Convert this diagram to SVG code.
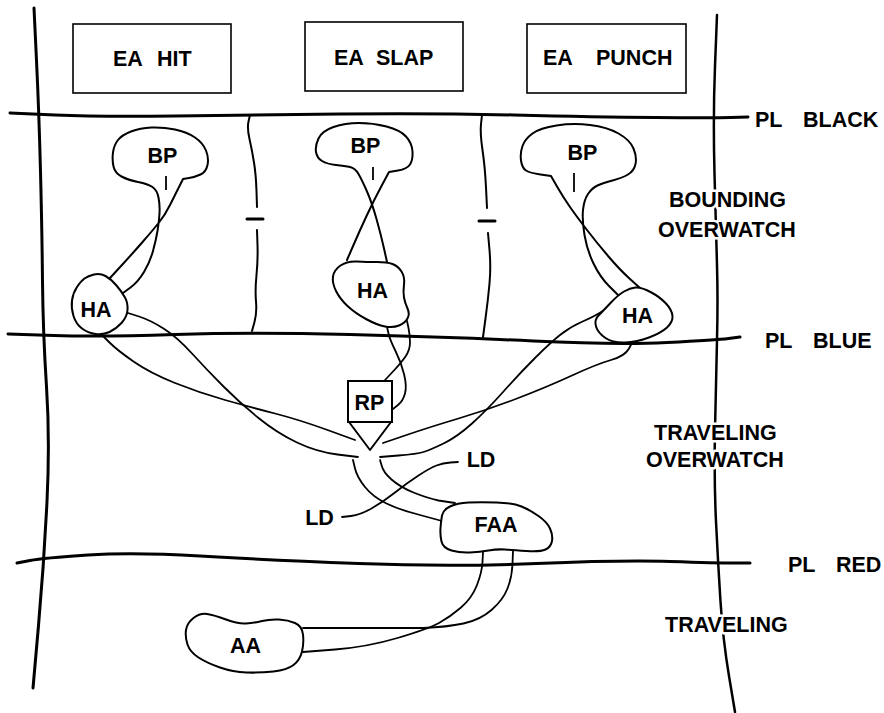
<svg xmlns="http://www.w3.org/2000/svg" width="884" height="713" viewBox="0 0 884 713">
<style>
.bnd{fill:none;stroke:#000;stroke-width:3;stroke-linecap:round;stroke-linejoin:round}
.node{fill:#fff;stroke:#000;stroke-width:2;stroke-linejoin:round}
.out{fill:none;stroke:#000;stroke-width:2;stroke-linecap:round;stroke-linejoin:round}
.con{fill:none;stroke:#000;stroke-width:1.8;stroke-linecap:round;stroke-linejoin:round}
.box{fill:#fff;stroke:#000;stroke-width:1.6}
.tick{stroke:#000;stroke-width:1.8}
text{font-family:"Liberation Sans",Arial,sans-serif;font-weight:bold;font-size:21.5px;fill:#000}
.c{text-anchor:middle}
.halo{stroke:#fff;stroke-width:5;paint-order:stroke;stroke-linejoin:round}
</style>
<rect width="884" height="713" fill="#fff"/>
<g id="boundaries">
<path class="bnd" d="M34,8 L36.5,60.5 Q39,113 40.5,171.5 Q42,230 42.5,281.5 Q43,333 46.5,386.5 Q50,440 47,501.5 Q44,563 38.5,625.5 L33,688"/>
<path class="bnd" d="M717,15 L715,66 Q713,117 714.5,173.5 Q716,230 717,265 Q718,300 717,340 Q716,380 715,430 Q714,480 716,521.5 Q718,563 720.5,601.5 Q723,640 729,676 L735,712" style="stroke-width:2.5"/>
<path class="bnd" d="M10,113 L55,115 Q100,117 175,116 Q250,115 340,114 Q430,113 513.5,115 Q597,117 655,117.5 Q713,118 730.5,117.5 L748,117"/>
<path class="bnd" d="M8,334 L54,335.5 Q100,337 175,334.5 Q250,332 350,334.5 Q450,337 533.5,341 Q617,345 667,342.5 Q717,340 728.5,338.5 L740,337"/>
<path class="bnd" d="M17,563 L30,560.5 Q43,558 88,555 Q133,552 200,556 Q267,560 358.5,563.5 Q450,567 536.5,563.5 Q623,560 670,561.5 Q717,563 733.5,563 L750,563"/>
<path class="out" d="M250,115 L248.5,121.5 Q247,128 249.5,139 Q252,150 254,162.5 Q256,175 256.5,191 L257,207"/>
<line class="bnd" x1="247" y1="219" x2="263" y2="219"/>
<path class="out" d="M257,230 L257.5,245 Q258,260 256.5,275 Q255,290 256,301.5 Q257,313 254.5,322 L252,331"/>
<path class="out" d="M482,115 L481,124 Q480,133 482.5,150 Q485,167 486,187.5 L487,208"/>
<line class="bnd" x1="479" y1="221" x2="495" y2="221"/>
<path class="out" d="M488,233 L489.5,250 Q491,267 489.5,283.5 Q488,300 485.5,318.5 L483,337"/>
</g>
<g id="labels">
<text x="755" y="127">PL<tspan x="803">BLACK</tspan></text>
<text x="765" y="348">PL<tspan x="813">BLUE</tspan></text>
<text x="788" y="572">PL<tspan x="836">RED</tspan></text>
<text class="halo" x="669" y="207">BOUNDING</text>
<text class="halo" x="658" y="237">OVERWATCH</text>
<text class="halo" x="654" y="440">TRAVELING</text>
<text class="halo" x="646" y="467">OVERWATCH</text>
<text class="halo" x="665" y="632">TRAVELING</text>
</g>
<g id="connectors">
<path class="con" d="M102,335 L109.5,342.5 Q117,350 133.5,361.5 Q150,373 175,383 Q200,393 225,400 Q250,407 275,413.5 Q300,420 327.5,430 L355,440"/>
<path class="con" d="M128,313 L139,316.5 Q150,320 163.5,328.5 Q177,337 192,353.5 Q207,370 223.5,386.5 Q240,403 258.5,418 Q277,433 297,442.5 Q317,452 337.5,454.5 L358,457"/>
<path class="con" d="M387,327 L388.5,333.5 Q390,340 395.5,351 Q401,362 404,374 Q407,386 405,393.5 Q403,401 398,405 L393,409"/>
<path class="con" d="M407,321 L408.5,328 Q410,335 410,342.5 Q410,350 405.5,356.5 Q401,363 393,371.5 L385,380"/>
<path class="con" d="M606,309 L599.5,313 Q593,317 581.5,322 Q570,327 560,335 Q550,343 535,358 Q520,373 503.5,391.5 Q487,410 472,423.5 Q457,437 443.5,443.5 Q430,450 423.5,452 Q417,454 398.5,455.5 L380,457"/>
<path class="con" d="M633,341 L629,348.5 Q625,356 611,360 Q597,364 572,375.5 Q547,387 517,398.5 Q487,410 458.5,418.5 Q430,427 406.5,435 L383,443"/>
<path class="con" d="M353,460 L355,468.5 Q357,477 365,487 Q373,497 386.5,503.5 Q400,510 420,515 L442,521"/>
<path class="con" d="M380,460 L381.5,465 Q383,472 391.5,479.5 Q400,487 413.5,492.5 Q427,498 438.5,500.5 L455,503"/>
<path class="con" d="M342,517 L351,516 Q360,515 371.5,508.5 Q383,502 395,492.5 Q407,483 418.5,475.5 Q430,468 436.5,465.5 Q443,463 450.5,462.5 L458,462"/>
<path class="con" d="M513,551 L512.5,564 Q512,577 507.5,588.5 Q503,600 491.5,610 Q480,620 463.5,623.5 Q447,627 423.5,628 L303,628"/>
<path class="con" d="M483,552 L482.5,562 Q482,572 477,585 Q472,598 461,607.5 Q450,617 439,623 Q428,629 397.5,638 Q367,647 335,649.5 L303,652"/>
</g>
<g id="ea-hit">
<rect class="box" x="73" y="24" width="158" height="69"/>
<text x="113" y="66">EA<tspan x="157">HIT</tspan></text>
</g>
<g id="ea-slap">
<rect class="box" x="305" y="22" width="158" height="69"/>
<text x="334" y="65">EA<tspan x="376">SLAP</tspan></text>
</g>
<g id="ea-punch">
<rect class="box" x="527" y="24" width="159" height="69"/>
<text x="543" y="65">EA<tspan x="596">PUNCH</tspan></text>
</g>
<g id="bp1">
<path class="out" d="M123,293 L130.5,287.5 Q138,282 144,272 Q150,262 153,251 Q156,240 157.5,231 Q159,222 159.5,213.5 Q160,205 158.5,197.5 Q157,190 152.5,187 Q148,184 138,182 Q128,180 121.5,176.5 Q115,173 113.5,166.5 Q112,160 113,152.5 Q114,145 118,140 Q122,135 131,131.5 Q140,128 151.5,127.5 Q163,127 175,129.5 Q187,132 195,137.5 Q203,143 206,150.5 Q209,158 207.5,165 Q206,172 200.5,174.5 Q195,177 189,178 L183,179 L179,187 Q175,195 170,205 Q165,215 159,222.5 Q153,230 143,241.5 Q133,253 121.5,265.5 L110,278"/>
<text class="c" x="162.5" y="163">BP</text>
<line class="tick" x1="166" y1="176" x2="166" y2="190"/>
</g>
<g id="ha1">
<path class="node" d="M84.5,278.5 Q88,276 94,274.5 Q100,273 105.5,276 Q111,279 116.5,285.5 Q122,292 125,297.5 Q128,303 127.5,310 Q127,317 121.5,323 Q116,329 109.5,332 Q103,335 95.5,334 Q88,333 82,328.5 Q76,324 73.5,316 Q71,308 72,300.5 Q73,293 77,287 Q81,281 84.5,278.5 Z"/>
<text class="c" x="96" y="317">HA</text>
</g>
<g id="bp2">
<path class="out" d="M387,262 L384,248.5 Q381,235 376.5,219 Q372,203 367,191.5 Q362,180 358.5,174 Q355,168 350,167 Q345,166 336,165 Q327,164 322,161 Q317,158 316,152 Q315,146 318.5,138.5 Q322,131 333.5,127 Q345,123 359,123 Q373,123 386.5,126.5 Q400,130 406,136.5 Q412,143 412.5,151.5 Q413,160 410,164.5 Q407,169 398,170.5 L389,172 L381.5,186 Q374,200 367,215 Q360,230 353.5,245 L347,260"/>
<text class="c" x="365.5" y="153">BP</text>
<line class="tick" x1="373" y1="167" x2="373" y2="180"/>
</g>
<g id="ha2">
<path class="node" d="M340.5,265.5 Q347,261 357,261.5 Q367,262 377,262 Q387,262 392.5,264 Q398,266 401.5,271.5 Q405,277 404,284.5 Q403,292 404,297.5 Q405,303 407.5,308.5 Q410,314 407.5,318.5 Q405,323 399,325.5 Q393,328 385,326.5 Q377,325 366,319 Q355,313 347.5,306 Q340,299 336,291 Q332,283 333,276.5 Q334,270 340.5,265.5 Z"/>
<text class="c" x="372.5" y="298">HA</text>
</g>
<g id="bp3">
<path class="out" d="M640,288 L630,279 Q620,270 608.5,256.5 Q597,243 587,230 Q577,217 570,207 Q563,197 557,186.5 L551,176 L540.5,174.5 Q530,173 526,170.5 Q522,168 521,160.5 Q520,153 522.5,146 Q525,139 532.5,133.5 Q540,128 556.5,125.5 Q573,123 590,125 Q607,127 618.5,133.5 Q630,140 633.5,148.5 Q637,157 635.5,164 Q634,171 628,174.5 Q622,178 612.5,180.5 Q603,183 597.5,185.5 Q592,188 588,194 Q584,200 583,210 Q582,220 584.5,235 Q587,250 593.5,263.5 Q600,277 609,286 L618,295"/>
<text class="c" x="582.5" y="160">BP</text>
<line class="tick" x1="574" y1="173" x2="574" y2="192"/>
</g>
<g id="ha3">
<path class="node" d="M610.5,303 Q618,295 624,291.5 Q630,288 635.5,287.5 Q641,287 650.5,292 Q660,297 666,303.5 Q672,310 672.5,316 Q673,322 667,327.5 Q661,333 649,337.5 Q637,342 625,342.5 Q613,343 605.5,338 Q598,333 596,326.5 Q594,320 598.5,315.5 Q603,311 610.5,303 Z"/>
<text class="c" x="637.5" y="323">HA</text>
</g>
<g id="rp">
<rect class="box" x="348" y="381" width="44" height="41" style="stroke-width:2"/>
<path class="out" d="M349,422 L370,450 L391,422"/>
<text class="c" x="369.5" y="410">RP</text>
</g>
<g id="ld-left">
<text class="c" x="319.5" y="525">LD</text>
</g>
<g id="ld-right">
<text class="c" x="481" y="467">LD</text>
</g>
<g id="faa">
<path class="node" d="M442,515.5 Q443,510 450,506.5 Q457,503 468.5,502.5 Q480,502 496.5,502.5 Q513,503 521.5,506.5 Q530,510 538.5,516 Q547,522 550,528.5 Q553,535 552,541 Q551,547 545.5,549.5 Q540,552 526.5,551 Q513,550 505,549.5 Q497,549 488.5,550.5 Q480,552 470,552.5 Q460,553 451.5,550.5 Q443,548 441.5,541.5 Q440,535 440.5,528 Q441,521 442,515.5 Z"/>
<text class="c" x="496" y="532">FAA</text>
</g>
<g id="aa">
<path class="node" d="M186,630 Q187,623 193.5,618 Q200,613 207,614 Q214,615 226,619.5 Q238,624 246,623.5 Q254,623 262,621 Q270,619 279,619.5 Q288,620 295,623 Q302,626 303,634.5 Q304,643 302,651.5 Q300,660 293.5,665 Q287,670 273.5,671.5 Q260,673 246.5,672.5 Q233,672 220,667.5 Q207,663 198.5,657.5 Q190,652 187.5,644.5 Q185,637 186,630 Z"/>
<text class="c" x="245.5" y="653">AA</text>
</g>
</svg>
